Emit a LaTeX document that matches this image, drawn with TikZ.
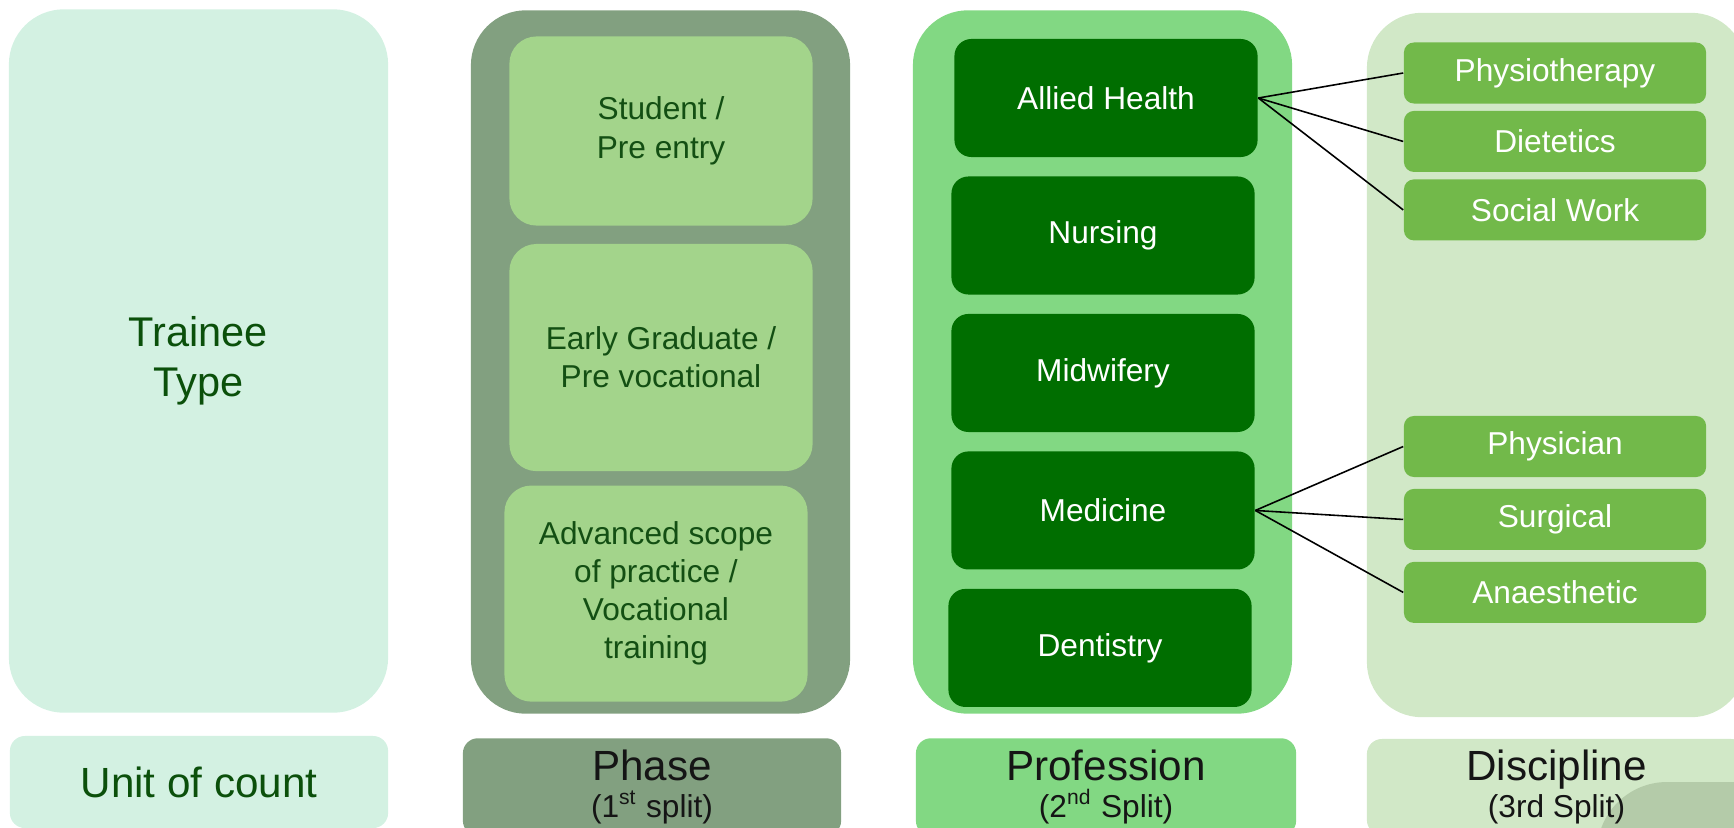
\documentclass[tikz,border=0pt]{standalone}
\usepackage{fontspec}
\setmainfont{Liberation Sans}
\usepackage{xcolor}
\usepackage{tikz}
\usetikzlibrary{positioning}

\definecolor{mintfill}{HTML}{D3F1E2}
\definecolor{traineetext}{HTML}{0B500B}
\definecolor{phaseouter}{HTML}{82A080}
\definecolor{phaseinner}{HTML}{A3D48B}
\definecolor{phasetext}{HTML}{134F13}
\definecolor{profouter}{HTML}{82D883}
\definecolor{profinner}{HTML}{006E00}
\definecolor{discouter}{HTML}{D1E8C7}
\definecolor{discinner}{HTML}{72B94A}
\definecolor{cornergray}{HTML}{B4CBA9}
\definecolor{labeltext}{HTML}{151515}

\begin{document}
\begin{tikzpicture}[
			x=0.01cm, y=-0.01cm,
			node distance = 0.18cm and 0.5cm,
			column/.style = {rectangle, fill=#1, rounded corners=0.55cm,
					minimum width=3.79cm, minimum height=7.03cm, inner sep=0pt},
			phaseblock/.style = {rectangle, fill=phaseinner, text=phasetext, align=center,
					rounded corners=0.27cm, minimum width=3.03cm,
					font=\fontsize{9}{10.8}\selectfont},
			profblock/.style = {rectangle, fill=profinner, text=white,
					rounded corners=0.17cm, minimum width=3.03cm, minimum height=1.18cm,
					font=\fontsize{9}{10.8}\selectfont},
			discblock/.style = {rectangle, fill=discinner, text=white,
					rounded corners=0.1cm, minimum width=3.02cm, minimum height=0.61cm,
					font=\fontsize{9}{10.8}\selectfont},
			splitbox/.style = {rectangle, fill=#1, text=labeltext, align=center,
					rounded corners=0.15cm, minimum width=3.79cm, minimum height=0.96cm,
					font=\fontsize{12}{10.5}\selectfont},
			line/.style = {draw, line width=0.45pt},
		]
		\useasboundingbox (0,0) rectangle (1734,827);
		\clip (0,0) rectangle (1734,827);

		% Columns
		\node [column=mintfill, text=traineetext, align=center,
			font=\fontsize{11.8}{14.2}\selectfont] (trainee) at (198.5,361) {Trainee\\Type};
		\node [column=phaseouter] (phasecol) at (660.5,362) {};
		\node [column=profouter] (profcol) at (1102.5,362) {};
		\node [column=discouter, minimum height=7.04cm] (disccol) at (1556.5,365) {};

		% Phases
		\node [phaseblock, minimum height=1.89cm, font=\fontsize{9}{11.1}\selectfont] (student) at (661,131) {Student /\\Pre entry};
		\node [phaseblock, minimum height=2.27cm, below=0.17cm of student] (earlygrad) {Early Graduate /\\Pre vocational};
		\node [phaseblock, minimum height=2.16cm, below=0.13cm of earlygrad, xshift=-0.05cm] (advanced) {Advanced scope\\of practice /\\Vocational\\training};

		% Professions
		\node [profblock] (allied) at (1106,98) {Allied Health};
		\node [profblock, below=of allied, xshift=-0.03cm] (nursing) {Nursing};
		\node [profblock, below=of nursing] (midwifery) {Midwifery};
		\node [profblock, below=of midwifery] (medicine) {Medicine};
		\node [profblock, below=of medicine, xshift=-0.03cm] (dentistry) {Dentistry};

		% Disciplines
		\node [discblock] (physio) at (1555,73) {Physiotherapy};
		\node [discblock, below=0.06cm of physio] (dietetics) {Dietetics};
		\node [discblock, below=0.06cm of dietetics] (socialwork) {Social Work};
		\node [discblock] (physician) at (1555,446.5) {Physician};
		\node [discblock, below=0.105cm of physician] (surgical) {Surgical};
		\node [discblock, below=0.105cm of surgical] (anaesthetic) {Anaesthetic};

		% Draw lines
		\path [line] (allied.east) -- (physio.west);
		\path [line] (allied.east) -- (dietetics.west);
		\path [line] (allied.east) -- (socialwork.west);
		\path [line] (medicine.east) -- (physician.west);
		\path [line] (medicine.east) -- (surgical.west);
		\path [line] (medicine.east) -- (anaesthetic.west);

		% Split labels
		\node [splitbox=mintfill, text=traineetext, minimum height=0.92cm,
			minimum width=3.78cm] (unitcount) at (199,782) {Unit of count};
		\node [splitbox=phaseouter, minimum width=3.78cm] (phase) at (652,787)
			{Phase\\{\fontsize{9}{10.5}\selectfont (1\textsuperscript{st} split)}};
		\node [splitbox=profouter, minimum width=3.80cm] (profession) at (1106,787)
			{Profession\\{\fontsize{9}{10.5}\selectfont (2\textsuperscript{nd} Split)}};
		\node [splitbox=discouter] (discbox) at (1556.5,787) {};
		\fill [cornergray, rounded corners=0.7cm] (1597,782) rectangle (1800,900);
		\node [align=center, text=labeltext, font=\fontsize{12}{10.5}\selectfont] (discipline) at (discbox)
			{Discipline\\{\fontsize{9}{10.5}\selectfont (3rd Split)}};

	\end{tikzpicture}
\end{document}
